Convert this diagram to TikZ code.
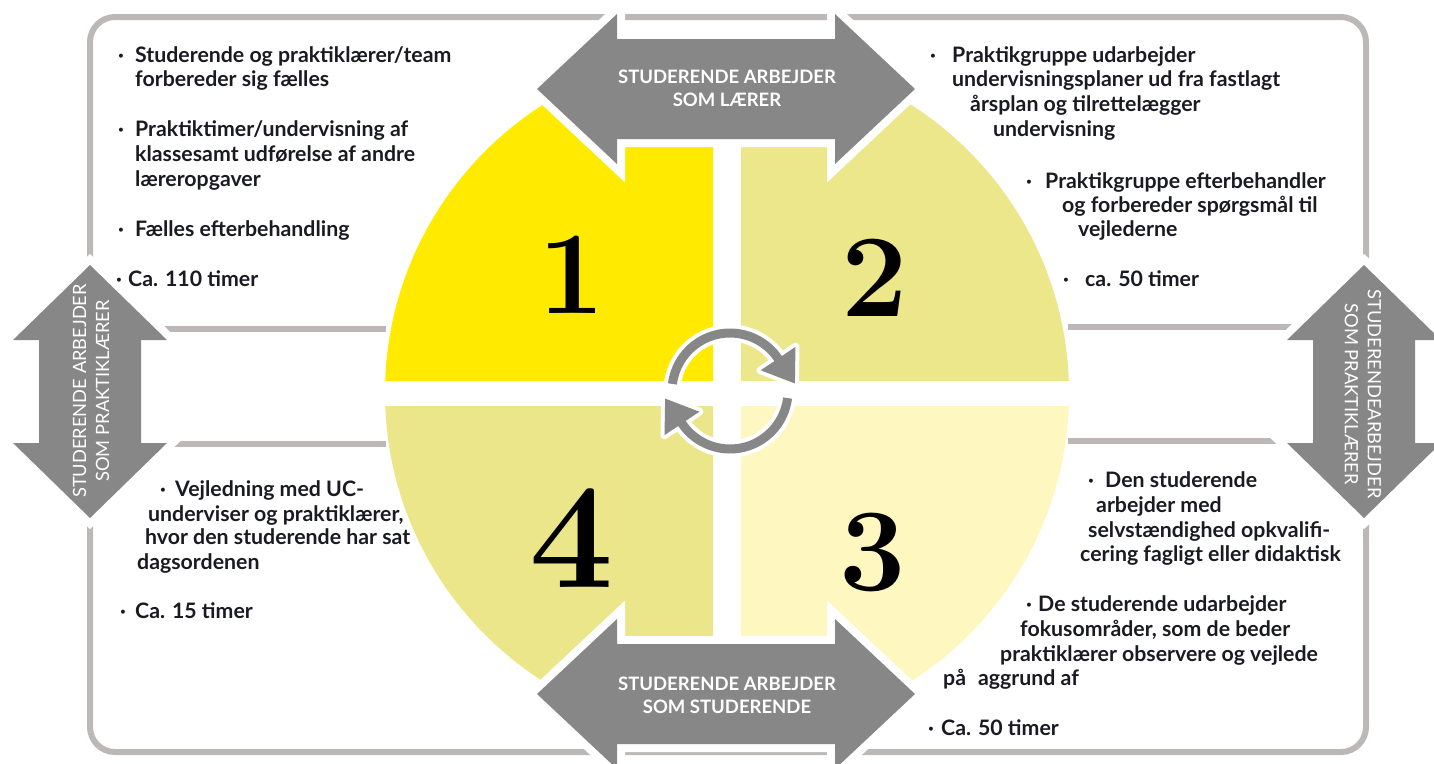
\documentclass[tikz,border=0pt]{standalone}
\usepackage{fontspec}
\newfontfamily\lato{Lato}
\usetikzlibrary{calc}
\definecolor{framec}{HTML}{BCB8B8}
\definecolor{arrowg}{HTML}{878787}
\definecolor{qone}{HTML}{FFEA00}
\definecolor{qtwo}{HTML}{EDE78B}
\definecolor{qthree}{HTML}{FEF7BF}
\definecolor{qfour}{HTML}{ECE68A}
\definecolor{textc}{HTML}{1A1A22}
\newcommand\bul[1]{\makebox[#1][l]{·}}
\begin{document}
\begin{tikzpicture}[x=1pt,y=-1pt,
  framel/.style={draw=framec,line width=6pt},
  bigarrow/.style={fill=arrowg,preaction={draw=white,line width=16pt,line join=miter}},
  alabel/.style={font=\lato\bfseries\fontsize{18.5}{23}\selectfont,text=white,align=center,inner sep=0pt},
  vlabel/.style={font=\lato\fontsize{18.3}{23}\selectfont,text=white,align=center,inner sep=0pt},
  txt/.style={anchor=base west,font=\lato\bfseries\fontsize{21.3}{25}\selectfont,text=textc,inner sep=0pt},
  num/.style={font=\bfseries\fontsize{118}{118}\selectfont,text=black,inner sep=0pt},
  ring/.style={draw=arrowg,line width=9pt},
  ringw/.style={draw=white,line width=17pt},
]
\useasboundingbox (0,0) rectangle (1434,763);
% frame and side lines
\draw[framel,rounded corners=25] (90,17) rectangle (1366,752);
\draw[framel] (90,329) -- (386,329);
\draw[framel] (90,444) -- (386,444);
\draw[framel] (1068,327) -- (1366,327);
\draw[framel] (1068,441) -- (1366,441);
% quadrants
\coordinate (O) at (727,393);
\begin{scope}\clip (300,0) rectangle (713,380); \fill[qone] (O) circle[radius=342]; \end{scope}
\begin{scope}\clip (741,0) rectangle (1100,380); \fill[qtwo] (O) circle[radius=342]; \end{scope}
\begin{scope}\clip (300,406) rectangle (713,763); \fill[qfour] (O) circle[radius=342]; \end{scope}
\begin{scope}\clip (741,406) rectangle (1100,763); \fill[qthree] (O) circle[radius=342]; \end{scope}
% big arrows
\path[bigarrow] (537,89) -- (617,14) -- (617,39) -- (835,39) -- (835,14) -- (915,89) -- (835,164) -- (835,139) -- (617,139) -- (617,164) -- cycle;
\path[bigarrow] (537,694) -- (617,619) -- (617,644) -- (835,644) -- (835,619) -- (915,694) -- (835,769) -- (835,744) -- (617,744) -- (617,769) -- cycle;
\path[bigarrow] (90,265) -- (167,340) -- (141,340) -- (141,443) -- (167,443) -- (90,518) -- (13,443) -- (39,443) -- (39,340) -- (13,340) -- cycle;
\path[bigarrow] (1364,265) -- (1441,340) -- (1415,340) -- (1415,443) -- (1441,443) -- (1364,518) -- (1287,443) -- (1313,443) -- (1313,340) -- (1287,340) -- cycle;
\node[alabel] (top) at (727,88) {STUDERENDE ARBEJDER\\SOM LÆRER};
\node[alabel] (bottom) at (727,695) {STUDERENDE ARBEJDER\\SOM STUDERENDE};
\node[vlabel,rotate=90] (left) at (91,391) {STUDERENDE ARBEJDER\\SOM PRAKTIKLÆRER};
\node[vlabel,rotate=-90] (right) at (1363,394) {STUDERENDEARBEJDER\\SOM PRAKTIKLÆRER};
% cycle arrows
\coordinate (C) at (730,391);
\draw[ringw] ($(C)+(-173:58)$) arc[start angle=-173,end angle=-32,radius=58];
\draw[ringw] ($(C)+(7:58)$) arc[start angle=7,end angle=148,radius=58];
\filldraw[draw=white,fill=white,line width=8pt,line join=round] ($(C)+(-34:79)$) -- ($(C)+(-34:58)+(56:30)$) -- ($(C)+(-34:37)$) -- cycle;
\filldraw[draw=white,fill=white,line width=8pt,line join=round] ($(C)+(146:79)$) -- ($(C)+(146:58)+(236:30)$) -- ($(C)+(146:37)$) -- cycle;
\draw[ring] ($(C)+(-173:58)$) arc[start angle=-173,end angle=-32,radius=58];
\draw[ring] ($(C)+(7:58)$) arc[start angle=7,end angle=148,radius=58];
\fill[arrowg] ($(C)+(-34:79)$) -- ($(C)+(-34:58)+(56:30)$) -- ($(C)+(-34:37)$) -- cycle;
\fill[arrowg] ($(C)+(146:79)$) -- ($(C)+(146:58)+(236:30)$) -- ($(C)+(146:37)$) -- cycle;
% numbers
\node[num] (n1) at (572,275) {1};
\node[num] (n2) at (875,278) {2};
\node[num] (n3) at (873,552) {3};
\node[num,font=\bfseries\fontsize{150}{150}\selectfont] (n4) at (572,538) {4};
% top-left text
\node[txt] (a1) at (118,62) {\bul{17pt}Studerende og praktiklærer/team};
\node[txt] (a2) at (135,86) {forbereder sig fælles};
\node[txt] (a3) at (118,136) {\bul{17pt}Praktiktimer/undervisning af};
\node[txt] (a4) at (135,161) {klassesamt udførelse af andre};
\node[txt] (a5) at (135,186) {læreropgaver};
\node[txt] (a6) at (118,236) {\bul{17pt}Fælles efterbehandling};
\node[txt] (a7) at (116,286) {\bul{12pt}Ca. 110 timer};
% top-right text
\node[txt] (b1) at (930,62) {\bul{22pt}Praktikgruppe udarbejder};
\node[txt] (b2) at (952,86) {undervisningsplaner ud fra fastlagt};
\node[txt] (b3) at (970,111) {årsplan og tilrettelægger};
\node[txt] (b4) at (993,136) {undervisning};
\node[txt] (b5) at (1026,188) {\bul{19pt}Praktikgruppe efterbehandler};
\node[txt] (b6) at (1062,212) {og forbereder spørgsmål til};
\node[txt] (b7) at (1078,236) {vejlederne};
\node[txt] (b8) at (1063,286) {\bul{22pt}ca. 50 timer};
% bottom-left text
\node[txt] (c1) at (160,496) {\bul{15pt}Vejledning med UC-};
\node[txt] (c2) at (148,521) {underviser og praktiklærer,};
\node[txt] (c3) at (145,544) {hvor den studerende har sat};
\node[txt] (c4) at (137,569) {dagsordenen};
\node[txt] (c5) at (120,618) {\bul{15pt}Ca. 15 timer};
% bottom-right text
\node[txt] (d1) at (1088,487) {\bul{17pt}Den studerende};
\node[txt] (d2) at (1096,512) {arbejder med};
\node[txt] (d3) at (1088,537) {selvstændighed opkvalifi-};
\node[txt] (d4) at (1080,561) {cering fagligt eller didaktisk};
\node[txt] (d5) at (1026,611) {\bul{12pt}De studerende udarbejder};
\node[txt] (d6) at (1020,636) {fokusområder, som de beder};
\node[txt] (d7) at (1000,661) {praktiklærer observere og vejlede};
\node[txt] (d8) at (943,685) {på\hspace{12pt}aggrund af};
\node[txt] (d9) at (928,735) {\bul{13pt}Ca. 50 timer};
\end{tikzpicture}
\end{document}
